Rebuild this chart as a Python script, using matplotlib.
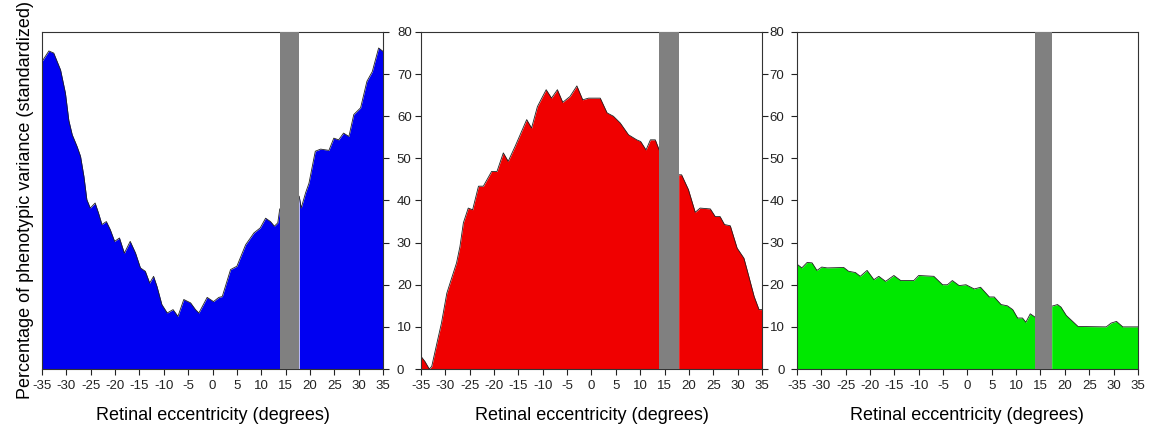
import matplotlib
matplotlib.use("Agg")
import matplotlib.pyplot as plt

plt.rcParams['font.family'] = ['Liberation Sans', 'DejaVu Sans']

# blue panel
blue_x = [-35, -33.6, -32.6, -31.2, -30.2, -29.5, -28.8, -27.8, -27.1, -26.4, -25.8, -25.1,
          -24.1, -23.4, -22.7, -21.8, -21.0, -20.1, -19.1, -18.1, -16.9, -15.8, -14.8, -13.8,
          -12.9, -12.1, -11.4, -10.4, -9.3, -8.1, -7.1, -5.9, -4.5, -3.5, -2.8, -1.1, 0.2,
          1.3, 2.0, 3.7, 5.0, 6.8, 8.5, 9.8, 10.9, 11.9, 12.7, 13.4, 13.8,
          17.8, 18.2, 19.1, 19.8, 21.1, 22.2, 23.9, 24.9, 25.9, 26.9, 28.0, 29.0, 30.4,
          31.7, 32.8, 34.1, 35]
blue_y = [73.0, 75.5, 75.0, 71.0, 65.5, 59.0, 55.6, 52.8, 50.5, 45.7, 40.2, 38.2,
          39.4, 37.0, 34.3, 35.0, 33.1, 30.3, 31.1, 27.5, 30.3, 27.5, 24.0, 23.2,
          20.4, 22.0, 19.6, 15.3, 13.3, 14.1, 12.5, 16.5, 15.7, 14.1, 13.3, 17.0, 16.0,
          17.0, 17.2, 23.6, 24.4, 29.5, 32.3, 33.5, 35.8, 35.0, 33.9, 34.7, 38.0,
          41.0, 38.2, 41.8, 44.1, 51.7, 52.2, 51.9, 54.8, 54.4, 56.0, 55.2, 60.4, 62.0,
          68.3, 70.6, 76.2, 75.4]

# red panel
red_x = [-35, -34.2, -33.3, -32.8, -31.8, -30.8, -29.7, -28.7, -27.7, -27.0, -26.3, -25.3,
         -24.4, -23.2, -22.2, -20.5, -19.4, -18.1, -17.1, -15.7, -13.3, -12.3, -11.1, -9.3,
         -8.2, -7.0, -5.9, -4.4, -3.0, -1.8, -0.6, 1.8, 3.2, 4.5, 5.9, 7.6, 9.3, 10.1,
         11.2, 12.1, 13.1, 13.9,
         17.9, 18.5, 19.9, 21.3, 22.3, 24.4, 25.4, 26.4, 27.3, 28.5, 29.9, 31.3, 32.3,
         33.4, 34.4, 35]
red_y = [3.0, 1.8, 0.0, 0.6, 5.8, 10.9, 18.0, 21.6, 25.2, 29.1, 34.7, 38.2,
         37.8, 43.4, 43.4, 46.9, 46.9, 51.3, 49.3, 52.8, 59.2, 57.2, 62.3, 66.3,
         64.3, 66.3, 63.3, 64.7, 67.2, 63.9, 64.3, 64.3, 60.8, 60.0, 58.4, 55.6, 54.4, 54.0,
         52.0, 54.4, 54.4, 52.0,
         46.1, 46.1, 42.6, 37.2, 38.2, 38.0, 36.2, 36.2, 34.3, 34.0, 28.7, 26.3, 22.0,
         17.2, 14.1, 14.1]

# green panel
green_x = [-35, -34.0, -32.9, -31.9, -30.9, -29.9, -28.8, -25.4, -24.4, -23.0, -22.0, -20.6,
           -19.2, -18.2, -16.8, -15.1, -13.7, -11.0, -10.0, -6.9, -5.1, -4.1, -3.1, -1.7,
           -0.3, 1.4, 2.7, 4.5, 5.5, 6.9, 8.2, 9.3, 10.3, 11.3, 12.0, 12.9, 13.9,
           17.3, 18.5, 19.2, 20.3, 21.6, 22.7, 28.5, 29.5, 30.6, 31.9, 35]
green_y = [24.9, 24.0, 25.3, 25.2, 23.4, 24.2, 24.0, 24.1, 23.2, 22.9, 22.0, 23.4,
           21.2, 22.0, 20.8, 22.2, 21.0, 21.0, 22.2, 22.0, 20.0, 20.0, 21.0, 19.8,
           20.0, 19.0, 19.4, 17.1, 17.1, 15.3, 15.0, 14.1, 12.1, 12.1, 11.1, 13.1, 12.3,
           14.9, 15.3, 14.7, 12.7, 11.3, 10.1, 10.0, 10.9, 11.3, 10.0, 10.0]

bands = [(13.8, 17.8), (13.9, 17.9), (13.9, 17.3)]
xticks = list(range(-35, 36, 5))
yticks = list(range(0, 81, 10))

fig = plt.figure(figsize=(11.55, 4.26), dpi=100)
lefts = [0.0364, 0.3645, 0.6900]
panels = [(blue_x, blue_y, '#0000f2'), (red_x, red_y, '#f00000'), (green_x, green_y, '#00e800')]

for i, (xs, ys, col) in enumerate(panels):
    ax = fig.add_axes([lefts[i], 0.1338, 0.2952, 0.7911])
    # split the curve at the gray band so the two parts stay separate
    lo, hi = bands[i]
    left_x = [x for x in xs if x <= lo]
    left_y = ys[:len(left_x)]
    right_x = xs[len(left_x):]
    right_y = ys[len(left_x):]
    for px, py in [(left_x, left_y), (right_x, right_y)]:
        ax.fill_between(px, 0, py, color=col, lw=0, zorder=1)
        ax.plot(px, py, color='#202020', lw=0.6, zorder=2)
    ax.axvspan(lo, hi, color='#808080', lw=0, zorder=3)
    ax.set_xlim(-35, 35)
    ax.set_ylim(0, 80)
    ax.set_xticks(xticks)
    ax.set_xticklabels([str(t) for t in xticks], fontsize=9.5)
    ax.set_yticks(yticks)
    ax.tick_params(direction='out', length=4, width=0.8, pad=4, colors='#222222')
    for s in ax.spines.values():
        s.set_linewidth(0.8)
        s.set_color('#333333')
    if i == 0:
        ax.tick_params(axis='y', left=False, labelleft=False, right=True, labelright=True,
                       labelsize=9.5, pad=6)
        ax.set_ylabel('Percentage of phenotypic variance (standardized)', fontsize=13, labelpad=6)
    elif i == 1:
        ax.tick_params(axis='y', left=True, labelleft=False, right=True, labelright=False)
    else:
        ax.tick_params(axis='y', left=True, labelleft=True, right=False, labelright=False,
                       labelsize=9.5, pad=5)
    ax.set_xlabel('Retinal eccentricity (degrees)', fontsize=13, labelpad=11)

fig.savefig('out.png', dpi=100)
